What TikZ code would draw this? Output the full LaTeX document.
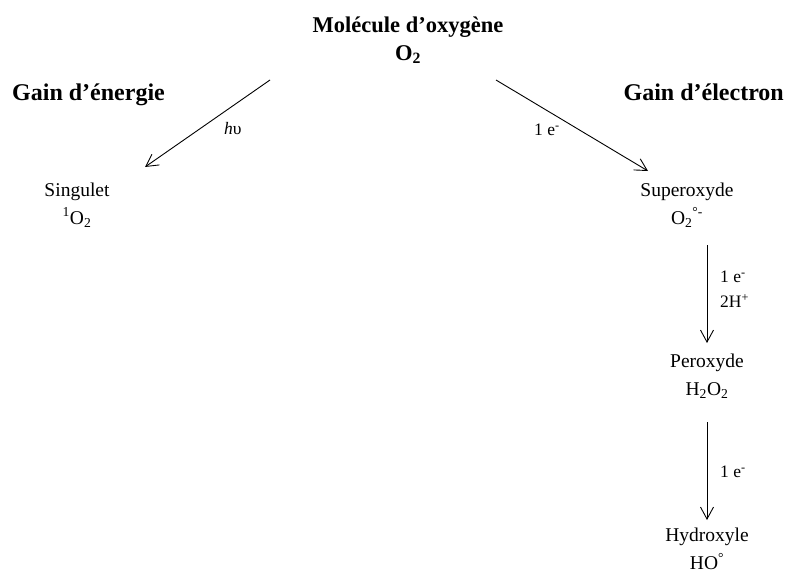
\documentclass[tikz,border=0pt]{standalone}
\usepackage{fontspec}
\setmainfont{Liberation Serif}
\usetikzlibrary{arrows.meta}
\begin{document}
\begin{tikzpicture}[x=1pt,y=-1pt,
  txt/.style={font=\fontsize{19.5}{28}\selectfont, align=center, inner sep=0pt},
  btxt/.style={font=\fontsize{22.5}{28}\selectfont\bfseries, align=center, inner sep=0pt},
  gtxt/.style={font=\fontsize{24}{28}\selectfont\bfseries, inner sep=0pt},
  lbl/.style={font=\fontsize{17.5}{25}\selectfont, align=left, inner sep=0pt, anchor=west},
  arr/.style={line width=0.9pt, -{Straight Barb[length=12pt,width=13pt,line width=0.9pt]}}]
\useasboundingbox (0,0) rectangle (785,578);
\node[btxt] (title) at (408,40) {Molécule d’oxygène\\O\textsubscript{2}};
\node[gtxt, anchor=base west] (ge) at (12,100) {Gain d’énergie};
\node[gtxt, anchor=base east] (gel) at (784,100) {Gain d’électron};
\node[txt] (sing) at (77,205) {Singulet\\\textsuperscript{1}O\textsubscript{2}};
\node[txt] (sup) at (687,205) {Superoxyde\\O\textsubscript{2}\textsuperscript{°-}};
\node[txt] (per) at (707,376) {Peroxyde\\H\textsubscript{2}O\textsubscript{2}};
\node[txt] (hyd) at (707,549) {Hydroxyle\\HO\textsuperscript{°}};
\coordinate (a1s) at (270,80);
\coordinate (a1e) at (145,167);
\coordinate (a2s) at (496,80);
\coordinate (a2e) at (648,171);
\coordinate (a3s) at (707,245);
\coordinate (a3e) at (707,343);
\coordinate (a4s) at (707,422);
\coordinate (a4e) at (707,520);
\draw[arr] (a1s) -- (a1e);
\draw[arr] (a2s) -- (a2e);
\draw[arr] (a3s) -- (a3e);
\draw[arr] (a4s) -- (a4e);
\node[lbl] (hv) at (224,129) {\textit{h}υ};
\node[lbl] (e1) at (534,130) {1 e\textsuperscript{-}};
\node[lbl] (e2) at (720,289) {1 e\textsuperscript{-}\\2H\textsuperscript{+}};
\node[lbl] (e3) at (720,472) {1 e\textsuperscript{-}};
\end{tikzpicture}
\end{document}
